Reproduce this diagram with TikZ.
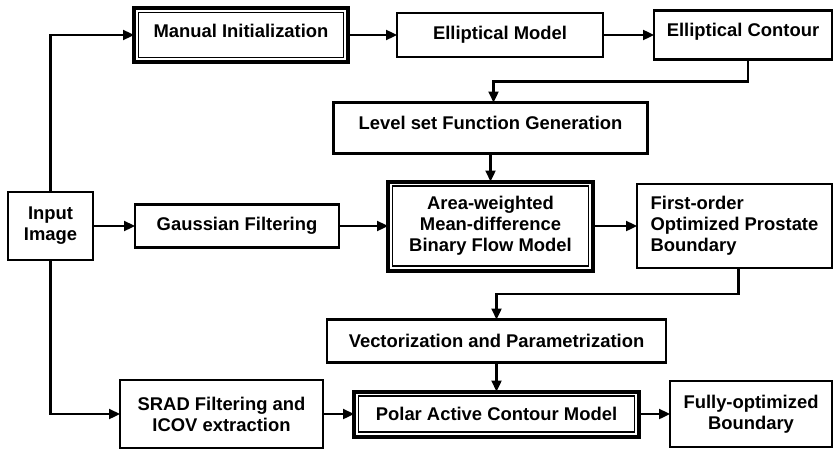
\documentclass[tikz,border=0pt]{standalone}
\usepackage{fontspec}
\setmainfont{Liberation Sans}
\usepackage{tikz}
\usetikzlibrary{positioning}
\usetikzlibrary{arrows.meta}

\begin{document}
\begin{tikzpicture}[
         x=0.5pt, y=-0.5pt,
         block/.style = {draw, line width=1.15pt, align=center, inner sep=0pt,
         outer sep=0pt, font=\fontsize{9.2pt}{10.5pt}\selectfont\bfseries},
         dblock/.style = {block, line width=2pt},
         flow/.style = {line width=1.15pt, -{Triangle[length=5.5pt,width=5pt]}}
]
      \useasboundingbox (0,0) rectangle (833,449);

      % middle row
      \node[block, minimum width=42.5pt, minimum height=34pt] (input) at (50.5,226) {Input\\Image};
      \node[block, minimum width=102pt, minimum height=21.5pt, right=21pt of input] (gauss) {Gaussian Filtering};
      \node[dblock, minimum width=102.5pt, minimum height=44.5pt, right=24.5pt of gauss] (area)
         {Area-weighted\\Mean-difference\\Binary Flow Model};
      \node[block, minimum width=97.5pt, minimum height=42pt, align=left, right=22pt of area] (first)
         {First-order\\Optimized Prostate\\Boundary};

      % top row
      \node[dblock, minimum width=107pt, minimum height=27pt, text depth=4pt] (manual) at (241,35) {Manual Initialization};
      \node[block, minimum width=103pt, minimum height=22pt, right=24.5pt of manual] (emodel) {Elliptical Model};
      \node[block, minimum width=89pt, minimum height=24.5pt, text depth=5pt, right=25.5pt of emodel] (econtour) {Elliptical Contour};
      \node[block, minimum width=157pt, minimum height=25.5pt, text depth=5pt, above=14pt of area] (levelset)
         {Level set Function Generation};

      % bottom row
      \node[block, minimum width=101.5pt, minimum height=34pt] (srad) at (221.5,414) {SRAD Filtering and\\ICOV extraction};
      \node[dblock, minimum width=142.5pt, minimum height=22.5pt, right=15.5pt of srad] (polar) {Polar Active Contour Model};
      \node[block, minimum width=81pt, minimum height=33pt, right=15.5pt of polar] (fully) {Fully-optimized\\Boundary};
      \node[block, minimum width=169.5pt, minimum height=21.5pt, above=14.5pt of polar] (vector)
         {Vectorization and Parametrization};

      % inner frame of the double boxes
      \foreach \n in {manual, area, polar}
         \draw[line width=0.7pt] ([shift={(2.3pt,-2.3pt)}]\n.north west) rectangle
         ([shift={(-2.3pt,2.3pt)}]\n.south east);

      % connections
      \draw[flow] (input.north) |- (manual.west);
      \draw[flow] (input.south) |- (srad.west);
      \draw[flow] (input) -- (gauss);
      \draw[flow] (manual) -- (emodel);
      \draw[flow] (emodel) -- (econtour);
      \draw[flow] ([xshift=2.5pt]econtour.south) -- ++(0,-11pt) -| ([xshift=1.5pt]levelset.north);
      \draw[flow] (levelset) -- (area);
      \draw[flow] (gauss) -- (area);
      \draw[flow] (area) -- (first);
      \draw[flow] ([xshift=2pt]first.south) -- ++(0,-13pt) -| (vector.north);
      \draw[flow] (vector) -- (polar);
      \draw[flow] (srad) -- (polar);
      \draw[flow] (polar) -- (fully);

\end{tikzpicture}
\end{document}
